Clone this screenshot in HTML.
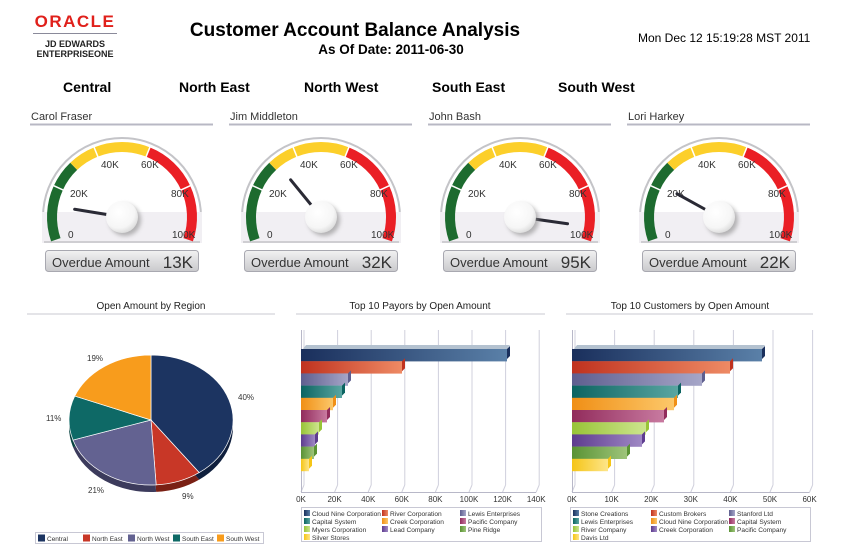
<!DOCTYPE html>
<html><head><meta charset="utf-8"><style>
html,body{margin:0;padding:0;background:#fff;}
svg{display:block;font-family:"Liberation Sans",Arial,sans-serif;}
</style></head><body>
<svg id="s" width="843" height="554" viewBox="0 0 843 554" xmlns="http://www.w3.org/2000/svg">
<defs>
<linearGradient id="box" x1="0" y1="0" x2="0" y2="1"><stop offset="0" stop-color="#f2f2f2"/><stop offset="1" stop-color="#c9c9cc"/></linearGradient>
<radialGradient id="hub" cx="0.4" cy="0.35" r="0.7"><stop offset="0" stop-color="#fff"/><stop offset="0.7" stop-color="#f6f6f6"/><stop offset="1" stop-color="#d8d8d8"/></radialGradient>
<filter id="sh" x="-50%" y="-50%" width="200%" height="200%"><feGaussianBlur stdDeviation="2"/></filter>
</defs>
<!-- logo -->
<text x="75" y="27" text-anchor="middle" font-size="17" font-weight="bold" fill="#e0201b" letter-spacing="1.5">ORACLE</text>
<line x1="33" y1="33.5" x2="117" y2="33.5" stroke="#8a8a9a" stroke-width="1"/>
<text x="75" y="47" text-anchor="middle" font-size="9" font-weight="bold" fill="#222">JD EDWARDS</text>
<text x="75" y="57" text-anchor="middle" font-size="9" font-weight="bold" fill="#222">ENTERPRISEONE</text>
<text x="355" y="36" text-anchor="middle" font-size="19" font-weight="bold" fill="#000">Customer Account Balance Analysis</text>
<text x="391" y="54" text-anchor="middle" font-size="13.5" font-weight="bold" fill="#000">As Of Date: 2011-06-30</text>
<text x="638" y="42" font-size="12" fill="#000">Mon Dec 12 15:19:28 MST 2011</text>
<g font-size="14" font-weight="bold" fill="#000">
<text x="63" y="92">Central</text><text x="179" y="92">North East</text><text x="304" y="92">North West</text><text x="432" y="92">South East</text><text x="558" y="92">South West</text>
</g>
<g id="gauges"></g>
<!-- bottom titles -->
<g font-size="10" fill="#222" text-anchor="middle">
<text x="151" y="309">Open Amount by Region</text>
<text x="420" y="309">Top 10 Payors by Open Amount</text>
<text x="690" y="309">Top 10 Customers by Open Amount</text>
</g>
<g stroke="#c8c8d0" stroke-width="1">
<line x1="27" y1="314" x2="275" y2="314"/><line x1="296" y1="314" x2="545" y2="314"/><line x1="566" y1="314" x2="813" y2="314"/>
</g>
<g id="pie"></g>
<g id="bars"></g>
</svg>
<script>
var NS="http://www.w3.org/2000/svg";
function el(p,t,a,txt){var e=document.createElementNS(NS,t);for(var k in a)e.setAttribute(k,a[k]);if(txt!=null)e.textContent=txt;p.appendChild(e);return e;}
var G=document.getElementById('gauges');
var gd=[["Carol Fraser",13,"13K"],["Jim Middleton",32,"32K"],["John Bash",95,"95K"],["Lori Harkey",22,"22K"]];
function ang(v){return (-109+v/100*218)*Math.PI/180;}
function pt(cx,cy,r,a){return [cx+r*Math.sin(a),cy-r*Math.cos(a)];}
function arc(cx,cy,r,a1,a2){var p=pt(cx,cy,r,a1),q=pt(cx,cy,r,a2);var l=(a2-a1)>Math.PI?1:0;return "M"+p[0].toFixed(2)+" "+p[1].toFixed(2)+" A"+r+" "+r+" 0 "+l+" 1 "+q[0].toFixed(2)+" "+q[1].toFixed(2);}
gd.forEach(function(d,i){
 var off=i*199, cx=122+off, cy=217;
 el(G,'text',{x:31+off,y:120,'font-size':11,fill:'#333'},d[0]);
 el(G,'line',{x1:30+off,y1:124.5,x2:213+off,y2:124.5,stroke:'#b8b8c4','stroke-width':2});
 var cp=el(G,'clipPath',{id:'c'+i});el(cp,'rect',{x:cx-90,y:120,width:180,height:123});
 var g=el(G,'g',{'clip-path':'url(#c'+i+')'});
 el(g,'circle',{cx:cx,cy:cy,r:79,fill:'#fff',stroke:'#c4c4c8','stroke-width':2});
 el(g,'rect',{x:cx-80,y:212,width:160,height:31,fill:'#f1eff3'});
 el(G,'line',{x1:cx-78,y1:242,x2:cx+78,y2:242,stroke:'#c4c4c8','stroke-width':1.5});
 var segs=[[0,20,'#1d6b2f'],[20,30,'#1d6b2f'],[30,40,'#fccf2a'],[40,60,'#fccf2a'],[60,80,'#ea1f25'],[80,100,'#ea1f25']];
 segs.forEach(function(s){el(G,'path',{d:arc(cx,cy,70,ang(s[0]),ang(s[1])),fill:'none',stroke:s[2],'stroke-width':10});});
 [20,40,60,80].forEach(function(v){var a=ang(v),p=pt(cx,cy,64,a),q=pt(cx,cy,76,a);el(G,'line',{x1:p[0],y1:p[1],x2:q[0],y2:q[1],stroke:'#fff','stroke-width':1.5});});
 var lb=[["0",-54,22],["20K",-52,-19],["40K",-21,-48],["60K",19,-48],["80K",49,-19],["100K",50,22]];
 lb.forEach(function(l){el(G,'text',{x:cx+l[1],y:cy+l[2]-1,'font-size':10,fill:'#333'},l[0]);});
 var a=ang(d[1]),p=pt(cx,cy,48,a);
 el(G,'line',{x1:cx,y1:cy,x2:p[0],y2:p[1],stroke:'#2a2a35','stroke-width':3,'stroke-linecap':'round'});
 el(G,'circle',{cx:cx+3,cy:cy+3,r:16,fill:'#888',opacity:0.6,filter:'url(#sh)'});
 el(G,'circle',{cx:cx,cy:cy,r:16,fill:'url(#hub)'});
 el(G,'rect',{x:45.5+off,y:250.5,width:153,height:21,rx:3,fill:'url(#box)',stroke:'#a8a8b0'});
 el(G,'text',{x:52+off,y:267,'font-size':13,fill:'#333'},'Overdue Amount');
 el(G,'text',{x:193+off,y:268,'font-size':17,fill:'#333','text-anchor':'end'},d[2]);
});
// pie
var P=document.getElementById('pie');
var pc=151,pcy=420,rx=82,ry=65;
var pd=[[40,'#1c3461','#0f1f3d'],[9,'#c83727','#7a2014'],[21,'#636291','#3c3b5c'],[11,'#0e6966','#074240'],[19,'#f89c1c','#a86510']];
function ep(a,dy){return [pc+rx*Math.sin(a),pcy+(dy||0)-ry*Math.cos(a)];}
var acc=0;
pd.forEach(function(s){var a1=acc/100*2*Math.PI,a2=(acc+s[0])/100*2*Math.PI;acc+=s[0];
 var p=ep(a1,7),q=ep(a2,7),l=(a2-a1)>Math.PI?1:0;
 el(P,'path',{d:"M"+pc+" "+(pcy+7)+" L"+p[0]+" "+p[1]+" A"+rx+" "+ry+" 0 "+l+" 1 "+q[0]+" "+q[1]+"Z",fill:s[2]});});
acc=0;
pd.forEach(function(s){var a1=acc/100*2*Math.PI,a2=(acc+s[0])/100*2*Math.PI;acc+=s[0];
 var p=ep(a1),q=ep(a2),l=(a2-a1)>Math.PI?1:0;
 el(P,'path',{d:"M"+pc+" "+pcy+" L"+p[0]+" "+p[1]+" A"+rx+" "+ry+" 0 "+l+" 1 "+q[0]+" "+q[1]+"Z",fill:s[1],stroke:'#fff','stroke-width':0.7});});
var pl=[["40%",238,400],["9%",182,499],["21%",88,493],["11%",46,421],["19%",87,361]];
pl.forEach(function(l){el(P,'text',{x:l[1],y:l[2],'font-size':8,fill:'#333'},l[0]);});
el(P,'rect',{x:35.5,y:532.5,width:228,height:11,fill:'#fff',stroke:'#c8c8d4'});
[["Central",38],["North East",83],["North West",128],["South East",173],["South West",217]].forEach(function(l,i){
 el(P,'rect',{x:l[1],y:534.5,width:7,height:7,fill:pd[i][1]});el(P,'text',{x:l[1]+9,y:541,'font-size':6.5,fill:'#333'},l[0]);});
// bars
var B=document.getElementById('bars');
var cols=[['#1a2f5c','#5a80a8'],['#c0321f','#ee8a64'],['#5f5f8f','#a6a6c8'],['#0c6461','#5aa6a2'],['#f08f16','#fcc86a'],['#922c5c','#c87aa0'],['#98c437','#cde58e'],['#5e3c8f','#9f88c4'],['#5a9334','#9ec47a'],['#f5c517','#fde58a']];
var defs=document.querySelector('defs');
cols.forEach(function(c,i){var lg=el(defs,'linearGradient',{id:'b'+i,x1:0,y1:0,x2:1,y2:0});el(lg,'stop',{offset:0,'stop-color':c[0]});el(lg,'stop',{offset:1,'stop-color':c[1]});});
function chart(x0,unit,ticks,vals,leg,lx){
 for(var k=0;k<ticks.length;k++){var x=x0+k*unit;
  el(B,'line',{x1:x+3,y1:330,x2:x+3,y2:485,stroke:'#d0d0dc'});
  el(B,'line',{x1:x+3,y1:485,x2:x,y2:492,stroke:'#d0d0dc'});
  el(B,'text',{x:x,y:502,'font-size':8,fill:'#333','text-anchor':'middle'},ticks[k]);}
 el(B,'line',{x1:x0,y1:492.5,x2:x0+(ticks.length-1)*unit,y2:492.5,stroke:'#b8b8c8'});
 el(B,'line',{x1:x0+0.5,y1:330,x2:x0+0.5,y2:492,stroke:'#b8b8c8'});
 el(B,'path',{d:"M"+(x0+2)+" 349 l3 -4 h"+(vals[0]-2)+" l-3 4z",fill:'#b4c2d0'});
 vals.forEach(function(w,i){var y=349+i*12.2;
  el(B,'rect',{x:x0,y:y,width:w,height:12.4,fill:'url(#b'+i+')'});
  el(B,'path',{d:"M"+(x0+w)+" "+y+" l3 -3 v10 l-3 3z",fill:cols[i][0]});});
 el(B,'rect',{x:lx+0.5,y:507.5,width:240,height:34,fill:'#fff',stroke:'#c8c8d4'});
 leg.forEach(function(t,i){var c=i%3,r=Math.floor(i/3);var x=lx+3+c*78,y=510+r*8;
  el(B,'rect',{x:x,y:y,width:6,height:6,fill:'url(#b'+i+')'});
  el(B,'text',{x:x+8,y:y+6,'font-size':6.6,fill:'#333'},t);});
}
chart(301,33.6,["0K","20K","40K","60K","80K","100K","120K","140K"],[206,101,47,41,32,26,18,14,13,8],
 ["Cloud Nine Corporation","River Corporation","Lewis Enterprises","Capital System","Creek Corporation","Pacific Company","Myers Corporation","Lead Company","Pine Ridge","Silver Stores"],301);
chart(572,39.6,["0K","10K","20K","30K","40K","50K","60K"],[190,158,130,106,102,92,74,70,55,36],
 ["Stone Creations","Custom Brokers","Stanford Ltd","Lewis Enterprises","Cloud Nine Corporation","Capital System","River Company","Creek Corporation","Pacific Company","Davis Ltd"],570);
</script>
</body></html>
